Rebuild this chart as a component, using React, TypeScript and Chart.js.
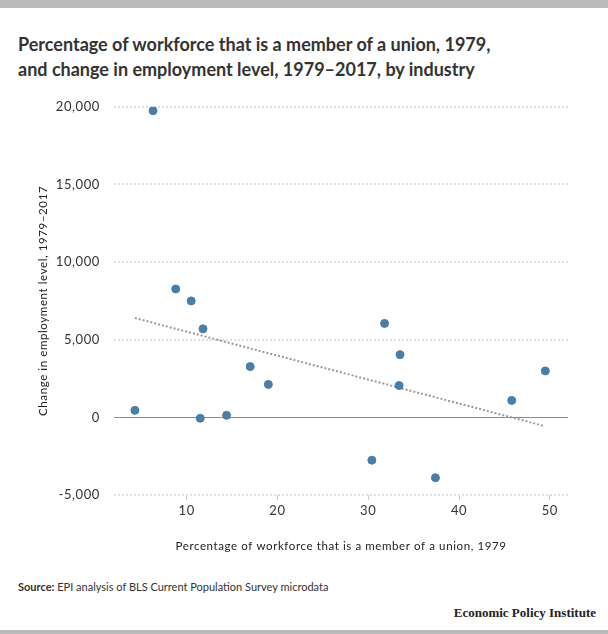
import { useEffect, useRef } from "react";
import { Chart, registerables } from "chart.js";

Chart.register(...registerables);

// union membership share in 1979 (%) and employment change 1979–2017, by industry
const unionShare = [4.3, 6.3, 8.8, 10.5, 11.8, 11.5, 14.4, 17.0, 19.0, 30.4, 31.8, 33.5, 33.4, 37.4, 45.8, 49.5];
const employmentChange = [450, 19750, 8270, 7500, 5700, -60, 130, 3270, 2120, -2760, 6050, 4040, 2050, -3890, 1090, 2990];

// fitted trend line end points
const trendX = [4.3, 49.4];
const trendY = [6400, -560];

const yTicks = [-5000, 0, 5000, 10000, 15000, 20000];
const xTicks = [10, 20, 30, 40, 50];

const FONT = "Lato, 'Open Sans', sans-serif";

const zeroLine = {
  id: "zeroLine",
  beforeDatasetsDraw(chart: any) {
    const { ctx, chartArea, scales } = chart;
    const y = Math.round(scales.y.getPixelForValue(0)) + 0.5;
    ctx.save();
    ctx.strokeStyle = "#8a8a8a";
    ctx.lineWidth = 1;
    ctx.beginPath();
    ctx.moveTo(chartArea.left, y);
    ctx.lineTo(chartArea.right, y);
    ctx.stroke();
    ctx.restore();
  },
};

// tick labels in the original are slightly tracked
const spacing = {
  id: "spacing",
  beforeDraw(chart: any) {
    chart.ctx.letterSpacing = "0.6px";
  },
  afterDraw(chart: any) {
    chart.ctx.letterSpacing = "0px";
  },
};

function ScatterChart() {
  const canvasRef = useRef<HTMLCanvasElement>(null);

  useEffect(() => {
    if (!canvasRef.current) return;
    const points = unionShare.map((x, i) => ({ x, y: employmentChange[i] }));
    const trend = trendX.map((x, i) => ({ x, y: trendY[i] }));
    const chart = new Chart(canvasRef.current, {
      type: "scatter",
      data: {
        datasets: [
          {
            data: points,
            backgroundColor: "#4a7ea6",
            borderColor: "#4a7ea6",
            pointRadius: 4,
            pointHoverRadius: 4,
            order: 1,
          },
          {
            type: "line",
            data: trend,
            showLine: true,
            borderColor: "#999",
            borderWidth: 2,
            borderDash: [2, 2],
            pointRadius: 0,
            fill: false,
            order: 2,
          } as any,
        ],
      },
      options: {
        animation: false,
        responsive: true,
        maintainAspectRatio: false,
        layout: { padding: { top: 0, left: 36, right: 40, bottom: 0 } },
        plugins: { legend: { display: false }, tooltip: { enabled: false } },
        scales: {
          x: {
            type: "linear",
            min: 2,
            max: 52,
            afterBuildTicks: (scale: any) => {
              scale.ticks = xTicks.map((v) => ({ value: v }));
            },
            afterFit: (scale: any) => {
              scale.height = 58;
            },
            grid: {
              drawOnChartArea: false,
              drawTicks: true,
              tickLength: 5,
              color: "#c8c8c8",
            },
            border: { display: false },
            ticks: {
              font: { family: FONT, size: 13 },
              color: "#333",
              padding: 3,
            },
            title: {
              display: true,
              text: "Percentage of workforce that is a member of a union, 1979",
              font: { family: FONT, size: 11.5 },
              color: "#222",
              padding: { top: 0, bottom: 0 },
            },
          },
          y: {
            type: "linear",
            min: -5000,
            max: 20000,
            afterBuildTicks: (scale: any) => {
              scale.ticks = yTicks.map((v) => ({ value: v }));
            },
            afterFit: (scale: any) => {
              scale.width = 78;
            },
            grid: {
              drawTicks: false,
              lineWidth: 2,
              color: (ctx: any) => (ctx.tick && ctx.tick.value === 0 ? "rgba(0,0,0,0)" : "#dedede"),
            },
            border: { display: false, dash: [2, 2] },
            ticks: {
              font: { family: FONT, size: 13 },
              color: "#333",
              padding: 14,
              callback: (v: any) => Number(v).toLocaleString("en-US"),
            },
            title: {
              display: true,
              text: "Change in employment level, 1979–2017",
              font: { family: FONT, size: 11.5 },
              color: "#222",
              padding: { top: 0, bottom: 0 },
            },
          },
        },
      },
      plugins: [zeroLine, spacing],
    });
    return () => chart.destroy();
  }, []);

  return <canvas ref={canvasRef} />;
}

export default function App() {
  return (
    <div
      style={{
        position: "absolute",
        left: 0,
        top: 0,
        width: 608,
        height: 634,
        background: "#fff",
        fontFamily: FONT,
        color: "#333",
        overflow: "hidden",
      }}
    >
      <div style={{ position: "absolute", left: 0, top: 0, width: 608, height: 8, background: "#bababa" }} />
      <div
        style={{
          position: "absolute",
          left: 18,
          top: 32,
          width: 580,
          fontSize: 18,
          fontWeight: 700,
          lineHeight: "25px",
          color: "#333",
        }}
      >
        Percentage of workforce that is a member of a union, 1979,
        <br />
        and change in employment level, 1979–2017, by industry
      </div>
      <div style={{ position: "absolute", left: 0, top: 85, width: 608, height: 468 }}>
        <ScatterChart />
      </div>
      <div style={{ position: "absolute", left: 18, top: 580, fontSize: 11, color: "#333" }}>
        <b>Source:</b> EPI analysis of BLS Current Population Survey microdata
      </div>
      <div
        style={{
          position: "absolute",
          right: 12,
          top: 605,
          fontSize: 13,
          fontWeight: 700,
          fontFamily: "'Liberation Serif', 'DejaVu Serif', serif",
          color: "#222",
        }}
      >
        Economic Policy Institute
      </div>
      <div style={{ position: "absolute", left: 0, top: 630, width: 608, height: 4, background: "#bababa" }} />
    </div>
  );
}
